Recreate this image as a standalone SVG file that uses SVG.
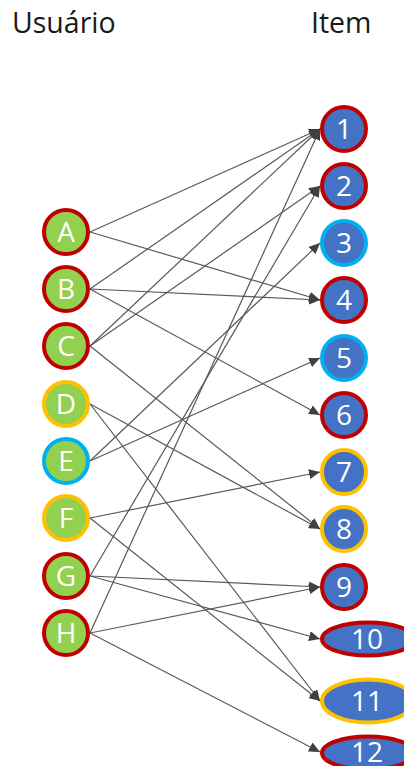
<svg xmlns="http://www.w3.org/2000/svg" width="404" height="766" viewBox="0 0 404 766">
<style>
.hdr{font-family:"Open Sans","Noto Sans","DejaVu Sans",sans-serif;font-size:28.5px;fill:#1a1a1a}
.lbl{font-family:"Open Sans","Noto Sans","DejaVu Sans",sans-serif;font-size:28px;fill:#ffffff;text-anchor:middle}
.u{fill:#92D050;stroke-width:4}
.i{fill:#4472C4;stroke-width:4}
.red{stroke:#C00000}
.org{stroke:#FFC000}
.blu{stroke:#00B0F0}
.e{stroke:#595959;stroke-width:1.2;fill:none;marker-end:url(#ah)}
</style>
<defs>
<marker id="ah" markerUnits="userSpaceOnUse" markerWidth="11" markerHeight="10" refX="11" refY="5" orient="auto">
<path d="M0,0 L11,5 L0,10 z" fill="#404040"/>
</marker>
</defs>
<text class="hdr" x="12" y="33">Usuário</text>
<text class="hdr" x="311" y="33">Item</text>
<g id="connectors">
<line class="e" x1="90" y1="232" x2="320" y2="129"/>
<line class="e" x1="90" y1="232" x2="320" y2="300"/>
<line class="e" x1="90" y1="289" x2="320" y2="129"/>
<line class="e" x1="90" y1="289" x2="320" y2="300"/>
<line class="e" x1="90" y1="289" x2="320" y2="415"/>
<line class="e" x1="90" y1="346" x2="320" y2="129"/>
<line class="e" x1="90" y1="346" x2="320" y2="186"/>
<line class="e" x1="90" y1="346" x2="320" y2="529"/>
<line class="e" x1="90" y1="404" x2="320" y2="529"/>
<line class="e" x1="90" y1="404" x2="320" y2="701"/>
<line class="e" x1="90" y1="461" x2="320" y2="243"/>
<line class="e" x1="90" y1="461" x2="320" y2="358"/>
<line class="e" x1="90" y1="518" x2="320" y2="472"/>
<line class="e" x1="90" y1="518" x2="320" y2="701"/>
<line class="e" x1="90" y1="576" x2="320" y2="186"/>
<line class="e" x1="90" y1="576" x2="320" y2="587"/>
<line class="e" x1="90" y1="576" x2="320" y2="639"/>
<line class="e" x1="90" y1="633" x2="320" y2="129"/>
<line class="e" x1="90" y1="633" x2="320" y2="587"/>
<line class="e" x1="90" y1="633" x2="320" y2="752"/>
</g>
<g id="user-A"><circle class="u red" cx="66" cy="232" r="22"/><text class="lbl" x="66" y="242">A</text></g>
<g id="user-B"><circle class="u red" cx="66" cy="289" r="22"/><text class="lbl" x="66" y="299">B</text></g>
<g id="user-C"><circle class="u red" cx="66" cy="346" r="22"/><text class="lbl" x="66" y="356">C</text></g>
<g id="user-D"><circle class="u org" cx="66" cy="404" r="22"/><text class="lbl" x="66" y="414">D</text></g>
<g id="user-E"><circle class="u blu" cx="66" cy="461" r="22"/><text class="lbl" x="66" y="471">E</text></g>
<g id="user-F"><circle class="u org" cx="66" cy="518" r="22"/><text class="lbl" x="66" y="528">F</text></g>
<g id="user-G"><circle class="u red" cx="66" cy="576" r="22"/><text class="lbl" x="66" y="586">G</text></g>
<g id="user-H"><circle class="u red" cx="66" cy="633" r="22"/><text class="lbl" x="66" y="643">H</text></g>
<g id="item-1"><circle class="i red" cx="344" cy="129" r="22"/><text class="lbl" x="344" y="139">1</text></g>
<g id="item-2"><circle class="i red" cx="344" cy="186" r="22"/><text class="lbl" x="344" y="196">2</text></g>
<g id="item-3"><circle class="i blu" cx="344" cy="243" r="22"/><text class="lbl" x="344" y="253">3</text></g>
<g id="item-4"><circle class="i red" cx="344" cy="300" r="22"/><text class="lbl" x="344" y="310">4</text></g>
<g id="item-5"><circle class="i blu" cx="344" cy="358" r="22"/><text class="lbl" x="344" y="368">5</text></g>
<g id="item-6"><circle class="i red" cx="344" cy="415" r="22"/><text class="lbl" x="344" y="425">6</text></g>
<g id="item-7"><circle class="i org" cx="344" cy="472" r="22"/><text class="lbl" x="344" y="482">7</text></g>
<g id="item-8"><circle class="i org" cx="344" cy="529" r="22"/><text class="lbl" x="344" y="539">8</text></g>
<g id="item-9"><circle class="i red" cx="344" cy="587" r="22"/><text class="lbl" x="344" y="597">9</text></g>
<g id="item-10"><ellipse class="i red" cx="368" cy="639" rx="46" ry="16.5"/><text class="lbl" x="367" y="649">10</text></g>
<g id="item-11"><ellipse class="i org" cx="368" cy="701" rx="46" ry="21.5"/><text class="lbl" x="367" y="711">11</text></g>
<g id="item-12"><ellipse class="i red" cx="368" cy="753" rx="46" ry="16.5"/><text class="lbl" x="367" y="762">12</text></g>
</svg>
